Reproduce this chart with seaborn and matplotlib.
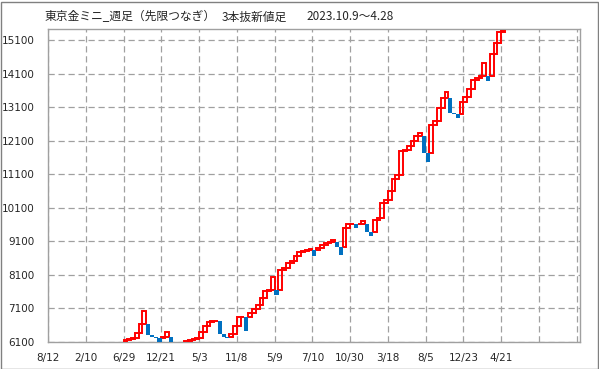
import matplotlib
matplotlib.use("Agg")
import matplotlib.pyplot as plt
from matplotlib.patches import Rectangle
import pandas as pd
import seaborn as sns

# three-line-break bricks (one brick per x step)
first_brick = 20
brick_open = [
    6090, 6150, 6180, 6220, 6370, 6630, 6630, 6320, 6260, 6230,
    6230, 6260, 6260, 6050, 5950, 5950, 6060, 6130, 6150, 6190,
    6230, 6400, 6570, 6690, 6720, 6720, 6330, 6260, 6260, 6330,
    6570, 6840, 6840, 6840, 6950, 7070, 7200, 7400, 7630, 7650,
    7650, 7650, 8250, 8320, 8460, 8500, 8660, 8770, 8810, 8850,
    8850, 8850, 8900, 8980, 9060, 9090, 9090, 8930, 8930, 9500,
    9610, 9610, 9610, 9630, 9630, 9380, 9380, 9750, 9800, 10250,
    10320, 10590, 10970, 11080, 11780, 11820, 11950, 12100, 12230, 12230,
    11740, 11740, 12580, 12700, 13070, 13360, 13360, 12920, 12890, 12890,
    13260, 13400, 13650, 13920, 13980, 14040, 14040, 14040, 14690, 15010,
    15350,
]
brick_close = [
    6150, 6180, 6220, 6370, 6630, 7020, 6320, 6260, 6230, 6070,
    6260, 6390, 6050, 5950, 5850, 6060, 6130, 6150, 6190, 6230,
    6400, 6570, 6690, 6720, 6740, 6330, 6260, 6220, 6330, 6570,
    6840, 6860, 6430, 6950, 7070, 7200, 7400, 7630, 7650, 8050,
    7490, 8250, 8320, 8460, 8500, 8660, 8770, 8810, 8850, 8880,
    8660, 8900, 8980, 9060, 9090, 9150, 8930, 8700, 9500, 9610,
    9630, 9500, 9630, 9710, 9380, 9260, 9750, 9800, 10250, 10320,
    10590, 10970, 11080, 11780, 11820, 11950, 12100, 12230, 12330, 11740,
    11470, 12580, 12700, 13070, 13360, 13560, 12920, 12890, 12770, 13260,
    13400, 13650, 13920, 13980, 14040, 14420, 13890, 14690, 15010, 15350,
    15380,
]
x_tick_labels = ['8/12', '2/10', '6/29', '12/21', '5/3', '11/8', '5/9',
                 '7/10', '10/30', '3/18', '8/5', '12/23', '4/21', '', '']
y_ticks = [6100, 7100, 8100, 9100, 10100, 11100, 12100, 13100, 14100, 15100]

df = pd.DataFrame({'open': brick_open, 'close': brick_close})
df['idx'] = range(first_brick, first_brick + len(df))
df['low'] = df[['open', 'close']].min(axis=1)
df['high'] = df[['open', 'close']].max(axis=1)
up = df[df['close'] > df['open']]
down = df[df['close'] <= df['open']]

sns.set_style("white")
plt.rcParams['font.family'] = ['DejaVu Sans']

fig = plt.figure(figsize=(5.99, 3.69), dpi=100)
ax = fig.add_axes([48 / 599, 27 / 369, 532 / 599, 313 / 369])

# up bricks: hollow red, down bricks: solid blue
ax.bar(up['idx'] + 0.5, up['high'] - up['low'], bottom=up['low'], width=1,
       fill=False, edgecolor='#FF0000', linewidth=1.4, zorder=3)
ax.bar(down['idx'] + 0.5, down['high'] - down['low'], bottom=down['low'], width=1.1,
       color='#0070C0', linewidth=0, zorder=4)

ax.set_xlim(0, 140.85)
ax.set_ylim(6100, 15430)
ax.set_xticks(range(0, 141, 10))
ax.set_xticklabels(x_tick_labels)
ax.set_yticks(y_ticks)

ax.grid(True, color='#A0A0A0', linestyle=(0, (5, 3)), linewidth=0.9)
ax.set_axisbelow(True)
for sp in ax.spines.values():
    sp.set_color('#A0A0A0')
    sp.set_linewidth(1.0)
ax.tick_params(axis='x', direction='out', length=3.5, width=0.8, color='#A0A0A0',
               labelsize=7.5, pad=4.5)
ax.tick_params(axis='y', direction='out', length=6, width=0.8, color='#A0A0A0',
               labelsize=7.5, pad=3.5)

# title pieces
title_font = ['Noto Sans CJK JP', 'DejaVu Sans']
ty = 1 - 17 / 369
fig.text(45 / 599, ty, '東京金ミニ_週足（先限つなぎ）', family=title_font, fontsize=8.5, va='center')
fig.text(222 / 599, ty, '3本抜新値足', family=title_font, fontsize=8.5, va='center')
fig.text(306 / 599, ty, '2023.10.9〜4.28', family=title_font, fontsize=8.5, va='center')

# outer frame
fig.add_artist(Rectangle((0.5 / 599, 0.5 / 369), 597 / 599, 367 / 369,
                         transform=fig.transFigure, fill=False,
                         edgecolor='#808080', linewidth=1))

fig.savefig('out.png', dpi=100)
